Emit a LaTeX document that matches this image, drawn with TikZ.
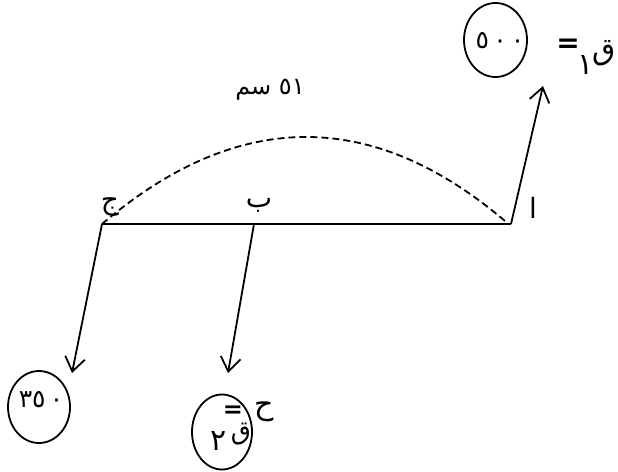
\documentclass[tikz,border=0pt]{standalone}
\usepackage{fontspec}
\usetikzlibrary{arrows.meta,shapes.geometric}
\newfontfamily\arabicfont[Script=Arabic]{DejaVu Sans}
\TeXXeTstate=1
\begin{document}
\begin{tikzpicture}[x=1pt,y=-1pt,
  txt/.style={inner sep=0pt,font=\arabicfont\fontsize{28}{30}\selectfont},
  digits/.style={inner sep=0pt,font=\arabicfont\fontsize{25}{27}\selectfont},
  bigtxt/.style={inner sep=0pt,font=\arabicfont\fontsize{30}{32}\selectfont},
  eqsign/.style={inner sep=0pt,font=\arabicfont\bfseries\fontsize{28}{30}\selectfont},
  oval/.style={ellipse,draw,line width=1.8pt,inner sep=0pt},
  beam/.style={line width=1.8pt},
  force/.style={line width=1.8pt,-{Straight Barb[length=14pt,width=20pt]}},
  span/.style={line width=1.8pt,dash pattern=on 7pt off 4pt}]
\useasboundingbox (0,0) rectangle (618,471);
% points on the beam
\coordinate (J) at (102,224);
\coordinate (B) at (254,224);
\coordinate (A) at (511,224);
\coordinate (arcEnd) at (505,221);
\coordinate (Atip) at (543,86);
\coordinate (Jtip) at (72,373);
\coordinate (Btip) at (228,373);
% beam
\draw[beam] (J) -- (A);
% span arc
\draw[span] (J) .. controls (237,109) and (372,108) .. (arcEnd);
% forces
\draw[force] (A) -- (Atip);
\draw[force] (J) -- (Jtip);
\draw[force] (B) -- (Btip);
% point labels
\node[txt] (lJ) at (110,207) {ج};
\node[txt] (lB) at (259,205) {ب};
\node[txt] (lA) at (533,208) {ا};
\node[txt,font=\arabicfont\fontsize{24}{26}\selectfont] (len) at (270,90) {\beginR ٥١ سم\endR};
% top force value
\node[oval,minimum width=63pt,minimum height=74pt] (e1) at (495.5,40) {};
\node[digits] (v1) at (500,41) {٥\,٠\,٠};
\node[eqsign] (eq1) at (568,46) {=};
\node[bigtxt] (s1) at (586,65) {١};
\node[bigtxt] (q1) at (604,53) {ق};
% left force value
\node[oval,minimum width=62pt,minimum height=72pt] (e2) at (39,407) {};
\node[digits] (v2) at (41,400) {٣٥\,٠};
% middle force
\node[oval,minimum width=60pt,minimum height=75pt] (e3) at (222,432) {};
\node[bigtxt] (s2) at (219,441) {٢};
\node[bigtxt,font=\arabicfont\fontsize{26}{28}\selectfont] (q2) at (241,434) {ق};
\node[eqsign,font=\arabicfont\bfseries\fontsize{24}{26}\selectfont] (eq2) at (233,412) {=};
\node[bigtxt] (h) at (264,412) {ح};
\end{tikzpicture}
\end{document}
